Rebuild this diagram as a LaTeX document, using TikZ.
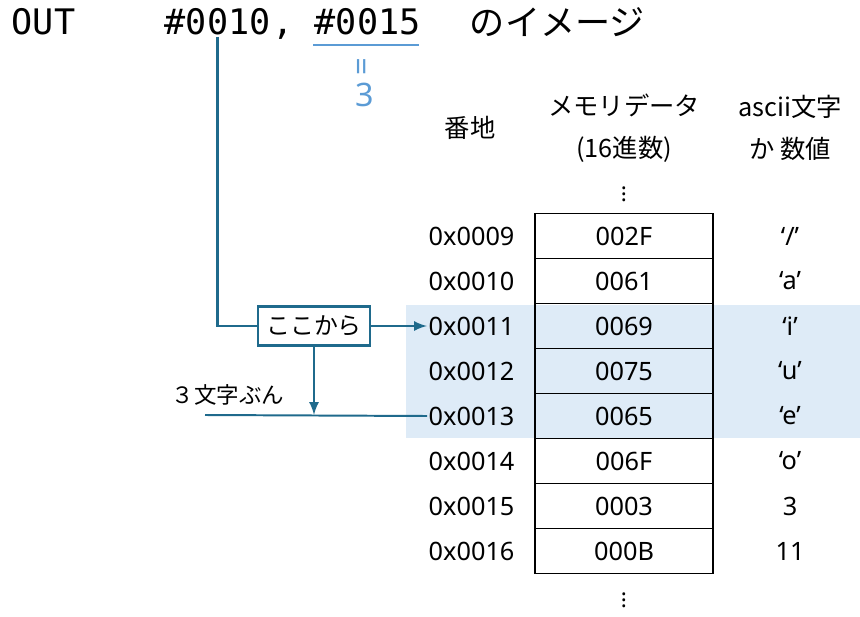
\documentclass[tikz,border=0pt]{standalone}
\usepackage{fontspec}
\setmainfont{Noto Sans}
\newfontfamily\jpfont{Noto Sans CJK JP}
\newfontfamily\codefont{DejaVu Sans Mono}
\usetikzlibrary{arrows,backgrounds}
\usetikzlibrary{positioning}
\definecolor{linkblue}{RGB}{31,106,140}
\definecolor{numblue}{RGB}{91,155,213}
\definecolor{hilite}{RGB}{222,235,247}
\tikzstyle{cell}=[rectangle, draw=black, line width=1pt, minimum width=4.45cm, minimum height=1.125cm, font=\fontsize{18}{20}\selectfont]
\tikzstyle{addr}=[anchor=west, inner sep=1pt, font=\fontsize{18}{20}\selectfont]
\tikzstyle{chr}=[font=\fontsize{18}{20}\selectfont]
\tikzstyle{dots}=[inner sep=0pt, font=\fontsize{16}{16}\selectfont]
\tikzstyle{head}=[align=center, font=\jpfont\fontsize{18}{30}\selectfont]
\tikzstyle{code}=[anchor=west, inner sep=1pt, font=\codefont\fontsize{25}{28}\selectfont]
\tikzstyle{link}=[draw=linkblue, line width=2.1pt]
\tikzset{>=latex}

\begin{document}
\begin{tikzpicture}[x=0.025cm, y=-0.025cm]
      \useasboundingbox (0,0) rectangle (860,617);

      % the instruction
      \draw node at (10, 22) [code] (out) {OUT};
      \draw node at (163, 22) [code] (src) {\#0010};
      \draw node at (src.base east) [code, anchor=base west, inner sep=0pt] (comma) {,};
      \draw node at (313, 22) [code] (cnt) {\#0015};
      \draw node at (465, 22) [anchor=west, font=\jpfont\fontsize{25}{28}\selectfont] (title) {のイメージ};
      \draw [numblue, line width=1.8pt] (313, 45) -- (419, 45);
      \draw node at (365, 67) [numblue, inner sep=0pt, rotate=90, font=\fontsize{22}{22}\selectfont] (eq) {=};
      \draw node at (365, 95) [numblue, font=\fontsize{23}{24}\selectfont] (three) {3};

      % headers
      \draw node at (470, 128) [head] (hadr) {番地};
      \draw node at (624, 128) [head] (hval) {メモリデータ\\(16進数)};
      \draw node at (790, 128) [head] (hchr) {ascii文字\\か 数値};
      \draw node at (624, 190) [dots] (dtop) {$\vdots$};

      % memory
      \draw node at (624, 236) [cell] (v09) {002F};
      \draw node at (624, 281) [cell] (v10) {0061};
      \draw node at (624, 326) [cell] (v11) {0069};
      \draw node at (624, 371) [cell] (v12) {0075};
      \draw node at (624, 416) [cell] (v13) {0065};
      \draw node at (624, 461) [cell] (v14) {006F};
      \draw node at (624, 506) [cell] (v15) {0003};
      \draw node at (624, 551) [cell] (v16) {000B};
      \draw node at (624, 596) [dots] (dbot) {$\vdots$};

      \draw node at (427, 236) [addr] (a09) {0x0009};
      \draw node at (427, 281) [addr] (a10) {0x0010};
      \draw node at (427, 326) [addr] (a11) {0x0011};
      \draw node at (427, 371) [addr] (a12) {0x0012};
      \draw node at (427, 416) [addr] (a13) {0x0013};
      \draw node at (427, 461) [addr] (a14) {0x0014};
      \draw node at (427, 506) [addr] (a15) {0x0015};
      \draw node at (427, 551) [addr] (a16) {0x0016};

      \draw node at (790, 236) [chr] (c09) {‘/’};
      \draw node at (790, 281) [chr] (c10) {‘a’};
      \draw node at (790, 326) [chr] (c11) {‘i’};
      \draw node at (790, 371) [chr] (c12) {‘u’};
      \draw node at (790, 416) [chr] (c13) {‘e’};
      \draw node at (790, 461) [chr] (c14) {‘o’};
      \draw node at (790, 506) [chr] (c15) {3};
      \draw node at (790, 551) [chr] (c16) {11};

      \begin{scope}[on background layer]
        \fill [hilite] (406, 305) rectangle (860, 438);
      \end{scope}

      % pointer
      \draw node at (314, 326) [rectangle, draw=linkblue, line width=1.8pt, fill=white, minimum width=2.8cm, minimum height=0.975cm, font=\jpfont\fontsize{17}{18}\selectfont] (from) {ここから};
      \coordinate (lft) at (205, 415);
      \draw node at (228, 395) [font=\jpfont\fontsize{16}{18}\selectfont] (len) {３文字ぶん};

      \draw [link] (src.south) -- (src.south |- from.west) -- (from.west);
      \draw [link, ->] (from.east) to (a11.west);
      \draw [link, ->] (from.south) to (from.south |- lft);
      \draw [draw=linkblue, line width=1.4pt] (lft) -- (a13.west);
    \end{tikzpicture}
\end{document}
